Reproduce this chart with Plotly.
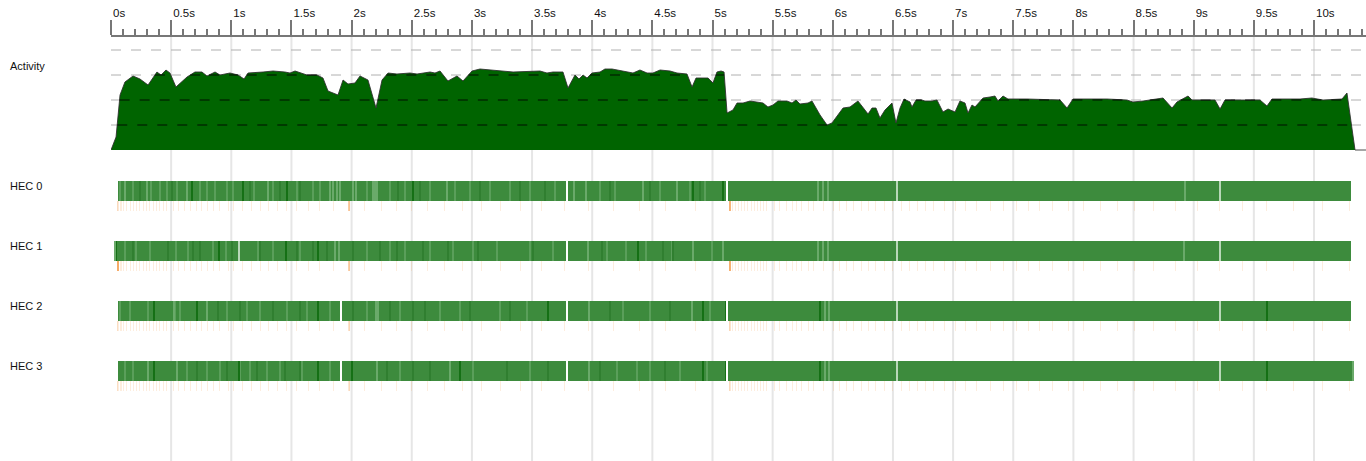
import numpy as np
import plotly.graph_objects as go

# ---------------- data ----------------
# Activity: number of busy HECs over time (seconds)
ACT_T = [0.000,0.042,0.075,0.116,0.183,0.241,0.308,0.382,0.416,0.457,
         0.490,0.540,0.632,0.698,0.756,0.798,0.865,0.906,0.989,1.056,
         1.106,1.139,1.264,1.347,1.446,1.488,1.530,1.629,1.712,1.762,
         1.804,1.887,1.929,1.970,2.028,2.070,2.136,2.203,2.253,2.303,
         2.377,2.485,2.544,2.652,2.693,2.735,2.801,2.876,2.926,3.001,
         3.067,3.234,3.342,3.566,3.624,3.674,3.757,3.799,3.857,3.890,
         3.924,3.957,3.998,4.065,4.106,4.165,4.289,4.339,4.397,4.456,
         4.505,4.564,4.647,4.705,4.788,4.830,4.863,4.963,5.004,5.037,
         5.071,5.096,5.121,5.170,5.204,5.254,5.312,5.378,5.420,5.461,
         5.503,5.544,5.619,5.661,5.694,5.727,5.794,5.827,5.894,5.952,
         5.993,6.085,6.143,6.209,6.251,6.293,6.326,6.359,6.392,6.434,
         6.492,6.525,6.559,6.592,6.642,6.658,6.692,6.741,6.766,6.825,
         6.866,6.916,6.958,7.016,7.057,7.099,7.124,7.157,7.182,7.249,
         7.307,7.348,7.373,7.415,7.456,7.531,7.614,7.889,7.947,7.997,
         8.163,8.279,8.446,8.495,8.579,8.745,8.820,8.861,8.953,8.986,
         9.177,9.219,9.260,9.551,9.609,9.651,9.884,9.983,10.075,10.233,
         10.274,10.341,10.432]
ACT_V = [0.00,0.52,2.20,2.72,2.96,2.84,2.60,3.12,3.00,3.20,
         3.08,2.52,2.92,3.12,3.12,2.96,3.12,3.00,3.08,3.00,
         2.84,3.08,3.12,3.16,3.12,3.08,3.16,3.00,3.00,2.88,
         2.36,2.20,2.80,2.64,2.68,2.96,2.80,1.68,2.80,3.08,
         3.04,3.08,3.04,3.12,3.08,3.16,2.76,2.96,2.76,3.16,
         3.24,3.16,3.12,3.16,3.08,3.12,3.12,2.48,3.00,2.84,
         3.00,2.88,3.08,3.12,3.24,3.24,3.12,3.08,3.20,3.08,
         3.08,3.20,3.16,3.08,3.04,2.52,2.88,2.88,2.68,3.12,
         3.16,3.12,1.48,1.60,1.88,1.88,1.96,1.92,1.88,1.72,
         1.80,1.96,1.96,1.88,2.00,1.84,1.88,1.96,1.40,1.00,
         1.08,1.68,1.72,1.96,1.68,1.44,1.68,1.68,1.28,1.60,
         1.88,1.08,1.68,2.04,1.92,1.72,2.00,2.00,1.96,1.96,
         2.00,1.52,1.64,1.52,1.96,1.88,1.48,1.80,1.72,2.08,
         2.12,2.16,1.96,2.16,2.04,2.04,2.04,2.00,1.68,2.04,
         2.04,2.04,2.00,1.92,1.96,2.08,1.68,1.92,2.16,2.00,
         2.00,1.64,2.00,2.00,1.76,2.04,2.04,2.08,2.00,2.04,
         2.28,0.00,0.00]
ACT_LEVELS = [1, 2, 3, 4]

HEC_NAMES = ["HEC 0", "HEC 1", "HEC 2", "HEC 3"]
HEC_START = [0.058, 0.025, 0.058, 0.058]
HEC_END = [10.308, 10.308, 10.308, 10.316]
HEC_DARK = [
    [0.676, 1.095, 1.460, 2.510, 4.838, 5.091, 5.118],
    [0.042, 0.900, 1.452, 1.723, 4.381],
    [0.360, 0.712, 1.723, 3.630, 4.919, 5.115, 5.894, 9.607],
    [0.360, 1.066, 1.723, 2.003, 2.901, 4.919, 5.115, 5.894, 9.607],
]
HEC_LIGHT = [
    [0.116, 0.297, 0.632, 1.305, 1.820, 1.845, 1.879, 1.904, 2.012, 2.037,
     2.180, 2.195, 2.210, 2.790, 3.849, 3.948, 4.420, 4.702, 5.877, 5.919,
     5.960, 8.928],
    [0.030, 1.862, 1.898, 3.965, 4.838, 5.087, 5.877, 5.919, 5.960, 8.920],
    [0.524, 0.800, 2.203, 2.220, 3.973, 4.830, 5.935, 5.968],
    [0.310, 0.549, 2.209, 2.818, 3.973, 5.935, 5.968, 10.324],
]
HEC_PALE = [
    [6.534, 9.219],
    [1.066, 6.534, 9.219],
    [6.534, 9.219],
    [6.534, 9.219],
]
HEC_IDLE = [
    [3.796, 5.126],
    [3.796],
    [1.912, 3.796, 5.126],
    [1.912, 3.796, 5.126],
]
# subtle texture stripes (lighter / darker than the base green)
HEC_TEX_LIGHT = [
    [0.075, 0.183, 0.333, 0.407, 0.466, 0.549, 0.740, 0.798, 0.864, 0.964,
     1.014, 1.189, 1.347, 1.546, 1.679, 1.737, 2.128, 2.319, 2.444, 2.652,
     2.860, 2.984, 3.151, 3.317, 3.483, 3.691, 4.065, 4.190, 4.564, 4.813, 4.938],
    [0.116, 0.214, 0.324, 0.546, 0.643, 0.851, 0.962, 1.225, 1.347, 1.571,
     2.128, 2.319, 2.444, 2.652, 2.843, 3.009, 3.209, 3.483, 3.674, 4.123,
     4.282, 4.448, 4.664, 4.996],
    [0.075, 0.158, 0.308, 0.532, 0.574, 0.964, 1.130, 1.239, 1.463, 1.629,
     1.820, 2.128, 2.402, 2.735, 2.901, 3.234, 3.458, 4.256, 4.481, 4.980],
    [0.116, 0.183, 0.632, 0.798, 0.906, 1.072, 1.155, 1.297, 1.405, 1.588,
     1.820, 2.402, 2.652, 3.009, 3.292, 3.483, 4.206, 4.373, 4.481, 4.730, 4.955],
]
HEC_TEX_DARK = [
    [0.241, 0.507, 1.155, 1.405, 1.571, 2.386, 2.569, 3.067, 3.400, 3.608,
     4.148, 4.481, 4.896],
    [0.183, 0.474, 0.682, 0.740, 1.006, 1.239, 1.546, 1.679, 1.796, 2.012,
     2.236, 2.377, 2.594, 2.801, 3.051, 3.508, 4.082, 4.589, 4.672],
    [0.889, 1.072, 1.347, 1.571, 2.012, 2.319, 2.510, 2.610, 2.984, 3.317,
     4.148, 4.647],
    [0.715, 0.964, 1.214, 1.446, 1.571, 2.294, 2.510, 2.652, 3.292, 3.633,
     4.065, 4.605],
]
GC_TIMES = [0.058,0.075,0.091,0.108,0.131,0.158,0.185,0.214,0.241,0.268,
            0.297,0.324,0.352,0.380,0.407,0.435,0.463,0.518,0.565,0.615,
            0.657,0.707,0.754,0.800,0.850,0.900,0.975,1.022,1.095,1.170,
            1.239,1.308,1.382,1.455,1.544,1.640,1.732,1.848,1.981,2.111,
            2.250,2.375,2.500,2.629,2.776,2.924,3.081,3.234,3.400,3.580,
            3.766,3.968,4.175,4.392,4.611,4.855,5.145,5.170,5.195,5.220,
            5.245,5.270,5.295,5.320,5.345,5.370,5.395,5.420,5.445,5.514,
            5.561,5.611,5.663,5.700,5.741,5.796,5.838,5.921,6.004,6.054,
            6.110,6.170,6.240,6.295,6.359,6.426,6.495,6.573,6.636,6.702,
            6.772,6.841,6.927,7.018,7.107,7.196,7.307,7.415,7.523,7.623,
            7.722,7.825,7.958,8.088,8.224,8.365,8.506,8.667,8.847,9.030,
            9.213,9.407,9.607,9.828,10.069,10.293]
GC_MAJOR_T = [0.058, 1.981, 5.145]
GC_MAJOR_ALPHA = [
    [0.25, 0.55, 0.80],
    [0.90, 0.50, 0.85],
    [0.20, 0.30, 0.30],
    [0.20, 0.25, 0.25],
]
TICK_TIMES = [0, 0.5, 1, 1.5, 2, 2.5, 3, 3.5, 4, 4.5, 5, 5.5, 6, 6.5, 7,
              7.5, 8, 8.5, 9, 9.5, 10]
TICK_LABELS = ["0s", "0.5s", "1s", "1.5s", "2s", "2.5s", "3s", "3.5s", "4s",
               "4.5s", "5s", "5.5s", "6s", "6.5s", "7s", "7.5s", "8s", "8.5s",
               "9s", "9.5s", "10s"]

# ---------------- style / layout constants ----------------
W, H = 1366, 461
ML, MT = 111, 37
PX_PER_S = 120.3
X_MAX = (W - ML) / PX_PER_S
PX = 1.0 / PX_PER_S                     # one pixel in seconds
ACT_BASE_PX, ACT_UNIT_PX = 150, 25      # activity baseline pixel & px per HEC
ROW0_PX, ROW_STEP_PX = 191, 60          # HEC row centre & spacing (px)
FONT = "Liberation Sans"
LABEL_X_PX = 8

GREEN_BASE = "#3d8b3d"
GREEN_DARK = "#157015"
GREEN_LIGHT = "#6aaa6a"
GREEN_PALE = "#b9d8b9"
GREEN_TEX_L = "#5a9f5a"
GREEN_TEX_D = "#307f30"
ORANGE = "245,163,90"

fig = go.Figure()

# --- activity area ---
fig.add_trace(go.Scatter(
    x=ACT_T, y=ACT_V, mode="lines", fill="tozeroy",
    fillcolor="#006400", line=dict(color="rgba(45,45,45,0.85)", width=1),
    hoverinfo="skip", yaxis="y"))

# dark dashed level lines over the filled area
tt = np.linspace(0, max(ACT_T), 8000)
vv = np.interp(tt, ACT_T, ACT_V)
for L in ACT_LEVELS:
    yy = np.where(vv >= L, float(L), np.nan)
    fig.add_trace(go.Scatter(
        x=tt, y=yy, mode="lines", connectgaps=False,
        line=dict(color="rgba(0,0,0,0.85)", width=1, dash="10px,10px"),
        hoverinfo="skip", yaxis="y"))

# --- HEC rows ---
BAR_W = 20 / ROW_STEP_PX
GC_W = 10 / ROW_STEP_PX
GC_OFF = 15 / ROW_STEP_PX

def stripes(row, times, width, color):
    if not times:
        return
    fig.add_trace(go.Bar(
        orientation="h", y=[row] * len(times),
        base=[t - width / 2 for t in times], x=[width] * len(times),
        width=BAR_W, marker=dict(color=color, line=dict(width=0)),
        hoverinfo="skip", yaxis="y2"))

for i, name in enumerate(HEC_NAMES):
    fig.add_trace(go.Bar(
        orientation="h", y=[i], base=[HEC_START[i]],
        x=[HEC_END[i] - HEC_START[i]], width=BAR_W,
        marker=dict(color=GREEN_BASE, line=dict(width=0)),
        hoverinfo="skip", yaxis="y2"))
    stripes(i, HEC_TEX_LIGHT[i], 1.5 * PX, GREEN_TEX_L)
    stripes(i, HEC_TEX_DARK[i], 1.5 * PX, GREEN_TEX_D)
    stripes(i, HEC_DARK[i], PX, GREEN_DARK)
    stripes(i, HEC_LIGHT[i], PX, GREEN_LIGHT)
    stripes(i, HEC_PALE[i], PX, GREEN_PALE)
    stripes(i, HEC_IDLE[i], 1.5 * PX, "#ffffff")
    # GC ticks below the row
    fig.add_trace(go.Bar(
        orientation="h", y=[i + GC_OFF] * len(GC_TIMES),
        base=[t - PX / 2 for t in GC_TIMES], x=[PX] * len(GC_TIMES),
        width=GC_W, marker=dict(color=f"rgba({ORANGE},0.2)", line=dict(width=0)),
        hoverinfo="skip", yaxis="y2"))
    for t, a in zip(GC_MAJOR_T, GC_MAJOR_ALPHA[i]):
        fig.add_trace(go.Bar(
            orientation="h", y=[i + GC_OFF], base=[t - PX], x=[2 * PX],
            width=GC_W, marker=dict(color=f"rgba({ORANGE},{a})", line=dict(width=0)),
            hoverinfo="skip", yaxis="y2"))

# --- shapes: vertical grid & light dashed level lines (below traces) ---
shapes = []
for t in TICK_TIMES[1:]:
    shapes.append(dict(type="line", xref="x", yref="paper", x0=t, x1=t, y0=0, y1=1,
                       line=dict(color="#e6e6e6", width=2), layer="below"))
for L in ACT_LEVELS:
    shapes.append(dict(type="line", xref="paper", yref="y", x0=0, x1=1, y0=L, y1=L,
                       line=dict(color="#b0b0b0", width=1, dash="10px,10px"),
                       layer="below"))

# --- row labels ---
lx = (LABEL_X_PX - ML) / (W - ML)
annotations = [dict(text="Activity", xref="paper", yref="paper",
                    x=lx, y=(H - 66) / (H - MT),
                    xanchor="left", yanchor="middle", showarrow=False,
                    font=dict(family=FONT, size=11, color="#111"))]
for i, name in enumerate(HEC_NAMES):
    annotations.append(dict(text=name, xref="paper", yref="y2",
                            x=lx, y=i - 5 / ROW_STEP_PX,
                            xanchor="left", yanchor="middle", showarrow=False,
                            font=dict(family=FONT, size=11, color="#111")))

act_top = (ACT_BASE_PX - MT) / ACT_UNIT_PX
act_bot = (ACT_BASE_PX - H) / ACT_UNIT_PX
row_top = (MT - ROW0_PX) / ROW_STEP_PX
row_bot = (H - ROW0_PX) / ROW_STEP_PX

fig.update_layout(
    width=W, height=H, margin=dict(l=ML, r=0, t=MT, b=0, pad=0),
    paper_bgcolor="white", plot_bgcolor="white",
    showlegend=False, barmode="overlay", bargap=0,
    shapes=shapes, annotations=annotations,
    xaxis=dict(range=[0, X_MAX], side="top", anchor="y",
               showline=True, linecolor="#777777", linewidth=2,
               ticks="outside", ticklen=15, tickwidth=2, tickcolor="#777777",
               tickmode="array", tickvals=TICK_TIMES, ticktext=TICK_LABELS,
               ticklabelposition="outside right", ticklabelstandoff=13,
               tickfont=dict(family=FONT, size=11.5, color="#111"),
               showgrid=False, zeroline=False,
               minor=dict(tickmode="linear", tick0=0, dtick=0.1, ticks="outside",
                          ticklen=6, tickwidth=1.5, tickcolor="#777777",
                          showgrid=False)),
    yaxis=dict(range=[act_bot, act_top], domain=[0, 1], visible=False,
               showgrid=False, zeroline=False, fixedrange=True),
    yaxis2=dict(range=[row_bot, row_top], domain=[0, 1], overlaying="y",
                visible=False, showgrid=False, zeroline=False, fixedrange=True),
)

fig.write_html("out.html")
